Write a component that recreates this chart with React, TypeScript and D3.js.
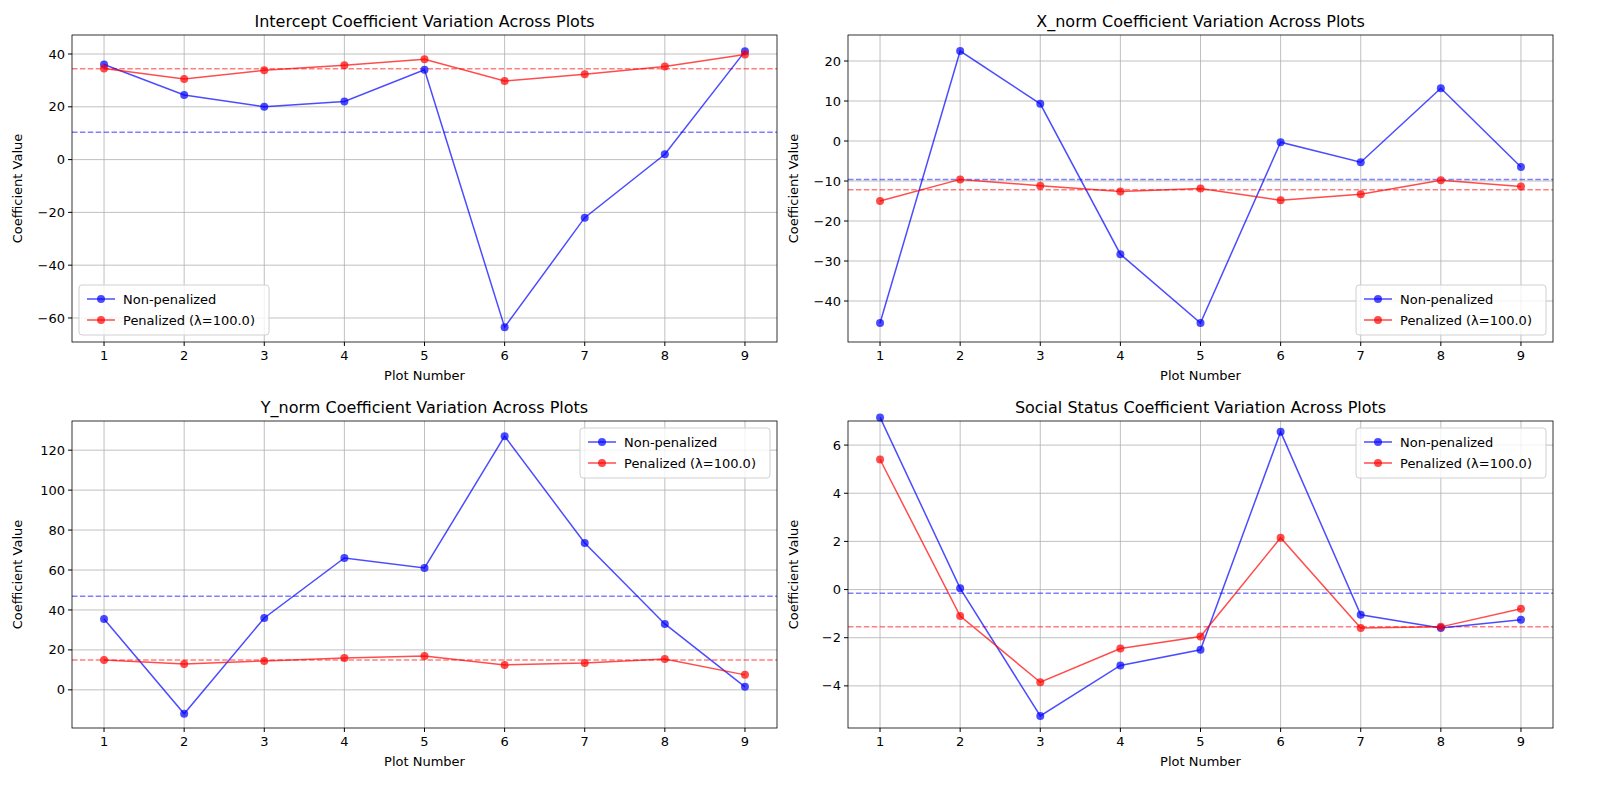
import React from "react";
import * as d3 from "d3";

const plots = [1, 2, 3, 4, 5, 6, 7, 8, 9];
const titles = ["Intercept Coefficient Variation Across Plots", "X_norm Coefficient Variation Across Plots", "Y_norm Coefficient Variation Across Plots", "Social Status Coefficient Variation Across Plots"];
const nonPen = [
  [36, 24.5, 20, 22, 34, -63.5, -22, 2, 41],
  [-45.5, 22.5, 9.3, -28.3, -45.5, -0.3, -5.3, 13.2, -6.5],
  [35.5, -12, 36, 66, 61, 127, 73.5, 33, 1.5],
  [7.15, 0.05, -5.25, -3.15, -2.5, 6.55, -1.05, -1.6, -1.25],
];
const pen = [
  [34.5, 30.5, 33.8, 35.7, 38, 29.8, 32.3, 35.3, 39.8],
  [-15, -9.6, -11.2, -12.6, -11.9, -14.8, -13.3, -9.8, -11.4],
  [15, 13, 14.5, 16, 17, 12.5, 13.5, 15.5, 7.5],
  [5.4, -1.1, -3.85, -2.45, -1.95, 2.15, -1.6, -1.55, -0.8],
];
const refNonPen = [10.4, -9.6, 46.8, -0.15];
const refPen = [34.4, -12.2, 14.9, -1.55];
const yDomains = [[-69.1, 47.2], [-50.25, 26.5], [-19.1, 134.6], [-5.75, 7]];
const yTicks = [[-60, -40, -20, 0, 20, 40], [-40, -30, -20, -10, 0, 10, 20], [0, 20, 40, 60, 80, 100, 120], [-4, -2, 0, 2, 4, 6]];
const legendPos = ["bl", "br", "tr", "tr"];

const boxes = [
  { x: 72, y: 35 }, { x: 848, y: 35 }, { x: 72, y: 421 }, { x: 848, y: 421 },
];
const W = 705, H = 307;
const BLUE = "rgba(0,0,255,0.7)", RED = "rgba(255,0,0,0.7)";

function Panel({ i }: { i: number }) {
  const { x: ox, y: oy } = boxes[i];
  const x = d3.scaleLinear().domain([0.6, 9.4]).range([0, W]);
  const y = d3.scaleLinear().domain(yDomains[i]).range([H, 0]);
  const line = d3.line<number>().x((_, k) => x(plots[k])).y((v) => y(v));
  const lw = 190, lh = 50;
  const lp = legendPos[i];
  const lx = lp === "bl" ? 7 : W - lw - 7;
  const ly = lp === "tr" ? 7 : H - lh - 7;
  return (
    <g transform={`translate(${ox},${oy})`} fontFamily="DejaVu Sans" fontSize={13}>
      <g stroke="#b0b0b0" strokeWidth={0.8}>
        {plots.map((p) => <line key={"x" + p} x1={x(p)} x2={x(p)} y1={0} y2={H} />)}
        {yTicks[i].map((t) => <line key={"y" + t} x1={0} x2={W} y1={y(t)} y2={y(t)} />)}
      </g>
      <line x1={0} x2={W} y1={y(refNonPen[i])} y2={y(refNonPen[i])} stroke="rgba(0,0,255,0.5)" strokeWidth={1.5} strokeDasharray="5.5,2.4" />
      <line x1={0} x2={W} y1={y(refPen[i])} y2={y(refPen[i])} stroke="rgba(255,0,0,0.5)" strokeWidth={1.5} strokeDasharray="5.5,2.4" />
      {[[nonPen[i], BLUE], [pen[i], RED]].map(([d, c]: any, k) => (
        <g key={k}>
          <path d={line(d) || ""} fill="none" stroke={c} strokeWidth={1.5} />
          {d.map((v: number, j: number) => <circle key={j} cx={x(plots[j])} cy={y(v)} r={4} fill={c} />)}
        </g>
      ))}
      <rect x={0} y={0} width={W} height={H} fill="none" stroke="#000" strokeWidth={0.8} />
      {plots.map((p) => (
        <g key={p}>
          <line x1={x(p)} x2={x(p)} y1={H} y2={H + 4} stroke="#000" />
          <text x={x(p)} y={H + 18} textAnchor="middle">{p}</text>
        </g>
      ))}
      {yTicks[i].map((t) => (
        <g key={t}>
          <line x1={-4} x2={0} y1={y(t)} y2={y(t)} stroke="#000" />
          <text x={-7} y={y(t)} dy="0.35em" textAnchor="end">{t < 0 ? "\u2212" + Math.abs(t) : t}</text>
        </g>
      ))}
      <text x={W / 2} y={-8} textAnchor="middle" fontSize={16}>{titles[i]}</text>
      <text x={W / 2} y={H + 38} textAnchor="middle">Plot Number</text>
      <text transform={`translate(-50,${H / 2}) rotate(-90)`} textAnchor="middle">Coefficient Value</text>
      <g transform={`translate(${lx},${ly})`}>
        <rect width={lw} height={lh} rx={3} fill="rgba(255,255,255,0.8)" stroke="#d0d0d0" />
        {[["Non-penalized", BLUE], ["Penalized (\u03bb=100.0)", RED]].map(([t, c], k) => (
          <g key={k} transform={`translate(0,${14 + k * 21})`}>
            <line x1={8} x2={36} stroke={c} strokeWidth={1.5} />
            <circle cx={22} r={4} fill={c} />
            <text x={44} dy="0.35em">{t}</text>
          </g>
        ))}
      </g>
    </g>
  );
}

export default function App() {
  return (
    <svg width={1600} height={800} style={{ display: "block", position: "absolute", left: 0, top: 0 }}>
      <rect width={1600} height={800} fill="#fff" />
      {[0, 1, 2, 3].map((i) => <Panel key={i} i={i} />)}
    </svg>
  );
}
